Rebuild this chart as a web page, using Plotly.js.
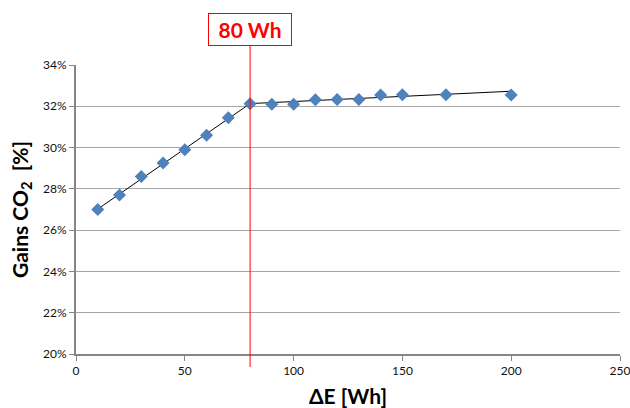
<!DOCTYPE html>
<html>
<head>
<meta charset="utf-8">
<script src="https://cdn.plot.ly/plotly-3.0.1.min.js"></script>
<style>html,body{margin:0;padding:0;background:#fff;}#chart{width:630px;height:408px;}</style>
</head>
<body>
<div id="chart"></div>
<script>
// Data
const deltaE = [10, 20, 30, 40, 50, 60, 70, 80, 90, 100, 110, 120, 130, 140, 150, 170, 200];
const gainsCO2 = [27.0, 27.7, 28.6, 29.25, 29.9, 30.6, 31.45, 32.12, 32.1, 32.1, 32.32, 32.33, 32.33, 32.55, 32.56, 32.56, 32.55];
const trend1X = [10, 80];
const trend1Y = [27.02, 32.13];
const trend2X = [80, 200];
const trend2Y = [32.13, 32.73];
const thresholdX = 80;
const thresholdLabel = "80 Wh";
const xTicks = [0, 50, 100, 150, 200, 250];
const yTicks = [20, 22, 24, 26, 28, 30, 32, 34];

const font = "Lato, 'Open Sans', sans-serif";

const traces = [
  {x: trend1X, y: trend1Y, mode: 'lines', line: {color: '#000', width: 1}, hoverinfo: 'skip'},
  {x: trend2X, y: trend2Y, mode: 'lines', line: {color: '#000', width: 1}, hoverinfo: 'skip'},
  {x: deltaE, y: gainsCO2, mode: 'markers', marker: {symbol: 'diamond', size: 10, color: '#4F81BD'}}
];

const layout = {
  width: 630, height: 408,
  margin: {l: 76, r: 10, t: 65, b: 54},
  showlegend: false,
  paper_bgcolor: '#fff', plot_bgcolor: '#fff',
  font: {family: font, color: '#111', size: 12},
  xaxis: {
    range: [0, 250], tickvals: xTicks, ticktext: xTicks.map(String),
    showgrid: false, zeroline: false, showline: true, linecolor: '#868686', linewidth: 2,
    ticks: 'outside', ticklen: 5, tickcolor: '#868686', tickwidth: 1,
    ticklabeloverflow: 'allow',
    tickfont: {family: font, size: 12, color: '#111'},
    title: {text: '<b>ΔE [Wh]</b>', font: {family: font, size: 21, color: '#000'}, standoff: 20}
  },
  yaxis: {
    range: [20, 34], tickvals: yTicks, ticktext: yTicks.map(v => v + '%'),
    showgrid: true, gridcolor: '#a6a6a6', gridwidth: 1, zeroline: false,
    showline: true, linecolor: '#868686', linewidth: 2,
    ticks: 'outside', ticklen: 5, tickcolor: '#868686', tickwidth: 1,
    tickfont: {family: font, size: 12, color: '#111'},
    title: {text: '<b>Gains CO<sub>2</sub>&nbsp;&nbsp;[%]</b>', font: {family: font, size: 21, color: '#000'}, standoff: 9}
  },
  shapes: [
    {type: 'line', xref: 'x', yref: 'paper', x0: thresholdX, x1: thresholdX, y0: -0.045, y1: 1.066,
     line: {color: '#ff0000', width: 1}}
  ],
  annotations: [
    {xref: 'x', yref: 'paper', x: thresholdX, y: 1.123, text: '<b>' + thresholdLabel + '</b>', showarrow: false,
     font: {family: font, size: 21, color: '#ff0000'}, bordercolor: '#ff0000', borderwidth: 1,
     bgcolor: '#fff', width: 80, height: 29, xanchor: 'center', yanchor: 'middle'}
  ]
};

Plotly.newPlot('chart', traces, layout, {displayModeBar: false, staticPlot: true});
</script>
</body>
</html>
